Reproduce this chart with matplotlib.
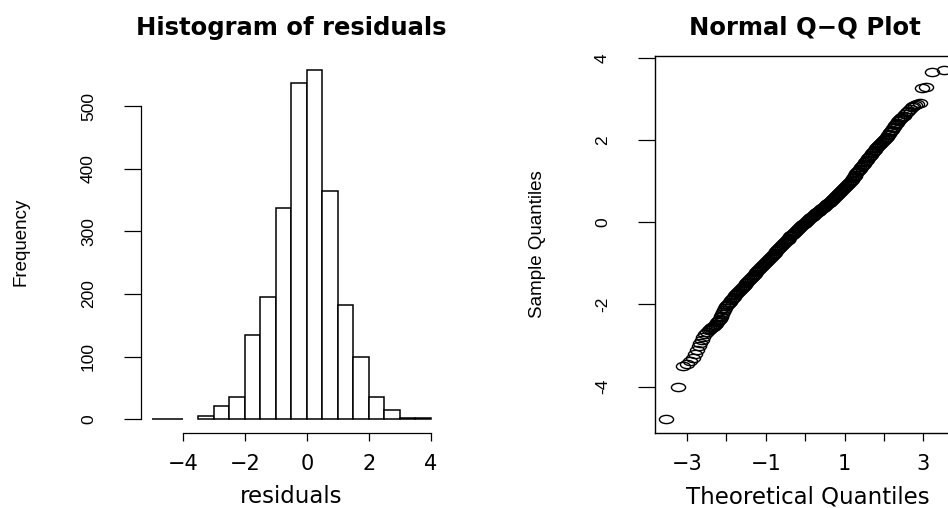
import numpy as np
import matplotlib
matplotlib.use('Agg')
import matplotlib.pyplot as plt
from matplotlib.path import Path
from matplotlib.transforms import Affine2D

# histogram of residuals: bins of 0.5 from -5 to 4
bin_edges = [-5.0, -4.5, -4.0, -3.5, -3.0, -2.5, -2.0, -1.5, -1.0, -0.5,
             0.0, 0.5, 1.0, 1.5, 2.0, 2.5, 3.0, 3.5, 4.0]
counts = [1, 1, 0, 6, 22, 36, 134, 196, 338, 536, 558, 365, 182, 100, 35, 15, 2, 2]

# normal Q-Q plot: theoretical vs sample quantiles
qq_theory_low = [-3.54, -3.24, -3.10, -3.00, -2.92, -2.85, -2.79, -2.74, -2.70, -2.66,
                 -2.63, -2.60, -2.55, -2.50]
qq_sample_low = [-4.80, -4.02, -3.49, -3.44, -3.38, -3.31, -3.22, -3.12, -3.02, -2.93,
                 -2.86, -2.80, -2.73, -2.67]

qq_theory_mid = [
    -2.450, -2.425, -2.400, -2.375, -2.350, -2.325, -2.300, -2.275, -2.250, -2.225,
    -2.200, -2.175, -2.150, -2.125, -2.100, -2.075, -2.050, -2.025, -2.000, -1.975,
    -1.950, -1.925, -1.900, -1.875, -1.850, -1.825, -1.800, -1.775, -1.750, -1.725,
    -1.700, -1.675, -1.650, -1.625, -1.600, -1.575, -1.550, -1.525, -1.500, -1.475,
    -1.450, -1.425, -1.400, -1.375, -1.350, -1.325, -1.300, -1.275, -1.250, -1.225,
    -1.200, -1.175, -1.150, -1.125, -1.100, -1.075, -1.050, -1.025, -1.000, -0.975,
    -0.950, -0.925, -0.900, -0.875, -0.850, -0.825, -0.800, -0.775, -0.750, -0.725,
    -0.700, -0.675, -0.650, -0.625, -0.600, -0.575, -0.550, -0.525, -0.500, -0.475,
    -0.450, -0.425, -0.400, -0.375, -0.350, -0.325, -0.300, -0.275, -0.250, -0.225,
    -0.200, -0.175, -0.150, -0.125, -0.100, -0.075, -0.050, -0.025, 0.000, 0.025,
    0.050, 0.075, 0.100, 0.125, 0.150, 0.175, 0.200, 0.225, 0.250, 0.275,
    0.300, 0.325, 0.350, 0.375, 0.400, 0.425, 0.450, 0.475, 0.500, 0.525,
    0.550, 0.575, 0.600, 0.625, 0.650, 0.675, 0.700, 0.725, 0.750, 0.775,
    0.800, 0.825, 0.850, 0.875, 0.900, 0.925, 0.950, 0.975, 1.000, 1.025,
    1.050, 1.075, 1.100, 1.125, 1.150, 1.175, 1.200, 1.225, 1.250, 1.275,
    1.300, 1.325, 1.350, 1.375, 1.400, 1.425, 1.450, 1.475, 1.500, 1.525,
    1.550, 1.575, 1.600, 1.625, 1.650, 1.675, 1.700, 1.725, 1.750, 1.775,
    1.800, 1.825, 1.850, 1.875, 1.900, 1.925, 1.950, 1.975, 2.000, 2.025,
    2.050, 2.075, 2.100, 2.125, 2.150, 2.175, 2.200, 2.225, 2.250, 2.275,
    2.300, 2.325, 2.350, 2.375, 2.400, 2.425, 2.450]
qq_sample_mid = [
    -2.62, -2.60, -2.58, -2.56, -2.54, -2.52, -2.50, -2.47, -2.44, -2.41,
    -2.38, -2.345, -2.31, -2.27, -2.23, -2.185, -2.14, -2.095, -2.05, -2.02,
    -1.99, -1.96, -1.93, -1.90, -1.87, -1.84, -1.81, -1.78, -1.75, -1.725,
    -1.70, -1.67, -1.64, -1.615, -1.59, -1.565, -1.54, -1.515, -1.49, -1.465,
    -1.44, -1.415, -1.39, -1.36, -1.33, -1.305, -1.28, -1.25, -1.22, -1.195,
    -1.17, -1.14, -1.11, -1.085, -1.06, -1.035, -1.01, -0.985, -0.96, -0.935,
    -0.91, -0.885, -0.86, -0.835, -0.81, -0.785, -0.76, -0.735, -0.71, -0.685,
    -0.66, -0.635, -0.61, -0.585, -0.56, -0.535, -0.51, -0.485, -0.46, -0.44,
    -0.42, -0.395, -0.37, -0.345, -0.32, -0.30, -0.28, -0.255, -0.23, -0.21,
    -0.19, -0.165, -0.14, -0.12, -0.10, -0.075, -0.05, -0.03, -0.01, 0.015,
    0.04, 0.06, 0.08, 0.10, 0.12, 0.14, 0.16, 0.18, 0.20, 0.22,
    0.24, 0.26, 0.28, 0.30, 0.32, 0.34, 0.36, 0.38, 0.40, 0.42,
    0.44, 0.46, 0.48, 0.50, 0.52, 0.545, 0.57, 0.59, 0.61, 0.635,
    0.66, 0.685, 0.71, 0.735, 0.76, 0.785, 0.81, 0.835, 0.86, 0.885,
    0.91, 0.935, 0.96, 0.985, 1.01, 1.04, 1.07, 1.10, 1.13, 1.16,
    1.19, 1.22, 1.25, 1.28, 1.31, 1.34, 1.37, 1.40, 1.43, 1.465,
    1.50, 1.53, 1.56, 1.59, 1.62, 1.65, 1.68, 1.71, 1.74, 1.77,
    1.80, 1.83, 1.86, 1.885, 1.91, 1.935, 1.96, 1.985, 2.01, 2.035,
    2.06, 2.09, 2.12, 2.155, 2.19, 2.225, 2.26, 2.295, 2.33, 2.365,
    2.40, 2.43, 2.46, 2.49, 2.52, 2.54, 2.56]

qq_theory_high = [2.50, 2.54, 2.58, 2.62, 2.66, 2.70, 2.745, 2.79, 2.84, 2.90,
                  2.96, 3.07, 3.21, 3.52]
qq_sample_high = [2.60, 2.64, 2.68, 2.72, 2.76, 2.80, 2.83, 2.855, 2.875, 2.90,
                  3.27, 3.29, 3.66, 3.72]

qq_theory = qq_theory_low + qq_theory_mid + qq_theory_high
qq_sample = qq_sample_low + qq_sample_mid + qq_sample_high

W, H = 948, 508
fig = plt.figure(figsize=(W / 100, H / 100), dpi=100)

narrow = ['Liberation Sans', 'DejaVu Sans']
wide = ['DejaVu Sans']

def px(x, y):
    return x / W, 1 - y / H

# ---- histogram ----
ax1 = fig.add_axes([140.8 / W, 1 - 433.3 / H, 301.3 / W, 377.6 / H])
left = [e for e, c in zip(bin_edges[:-1], counts) if c > 0]
hts = [c for c in counts if c > 0]
ax1.bar(left, hts, width=0.5, align='edge', facecolor='white',
        edgecolor='black', linewidth=1.1)
ax1.set_xlim(-5.36, 4.36)
ax1.set_ylim(-22.3, 580.3)
for s in ['top', 'right']:
    ax1.spines[s].set_visible(False)
ax1.spines['left'].set_bounds(0, 500)
ax1.spines['bottom'].set_bounds(-4, 4)
for s in ['left', 'bottom']:
    ax1.spines[s].set_linewidth(0.9)
ax1.set_xticks([-4, -2, 0, 2, 4])
ax1.set_xticklabels(['\u22124', '\u22122', '0', '2', '4'], family=wide, fontsize=15)
ax1.set_yticks([0, 100, 200, 300, 400, 500])
ax1.set_yticklabels(['0', '100', '200', '300', '400', '500'], family=narrow,
                    fontsize=12.5, rotation=90, va='center')
ax1.tick_params(axis='x', length=6.1, width=0.9, pad=9)
ax1.tick_params(axis='y', length=12.2, width=0.9, pad=20)

# ---- Q-Q plot ----
ax2 = fig.add_axes([654.7 / W, 1 - 433.3 / H, 300.3 / W, 377.6 / H])
ell = Path.unit_circle().transformed(Affine2D().scale(1.0, 0.58))
ax2.plot(qq_theory, qq_sample, linestyle='none', marker=ell, markersize=10.2,
         markerfacecolor='none', markeredgecolor='black', markeredgewidth=1.0)
ax2.set_xlim(-3.82, 3.80)
ax2.set_ylim(-5.14, 4.06)
for s in ax2.spines.values():
    s.set_linewidth(1.0)
ax2.set_xticks([-3, -2, -1, 0, 1, 2, 3])
ax2.set_xticklabels(['\u22123', '', '\u22121', '', '1', '', '3'], family=wide, fontsize=15)
ax2.set_yticks([-4, -2, 0, 2, 4])
ax2.set_yticklabels(['-4', '-2', '0', '2', '4'], family=narrow,
                    fontsize=12.5, rotation=90, va='center')
ax2.tick_params(axis='x', length=6.1, width=0.9, pad=9)
ax2.tick_params(axis='y', length=12.2, width=0.9, pad=20)

# ---- titles and axis labels ----
fig.text(*px(291, 28), 'Histogram of residuals', ha='center', va='center',
         family=wide, fontsize=17.5, fontweight='bold')
fig.text(*px(805, 28), 'Normal Q\u2212Q Plot', ha='center', va='center',
         family=wide, fontsize=17.5, fontweight='bold')
fig.text(*px(291, 503), 'residuals', ha='center', va='baseline',
         family=wide, fontsize=16.5)
fig.text(*px(808, 503), 'Theoretical Quantiles', ha='center', va='baseline',
         family=wide, fontsize=16.5)
fig.text(*px(21, 242), 'Frequency', ha='center', va='center', rotation=90,
         family=narrow, fontsize=13.5)
fig.text(*px(537, 244), 'Sample Quantiles', ha='center', va='center', rotation=90,
         family=narrow, fontsize=13.5)

fig.savefig('out.png', dpi=100)
